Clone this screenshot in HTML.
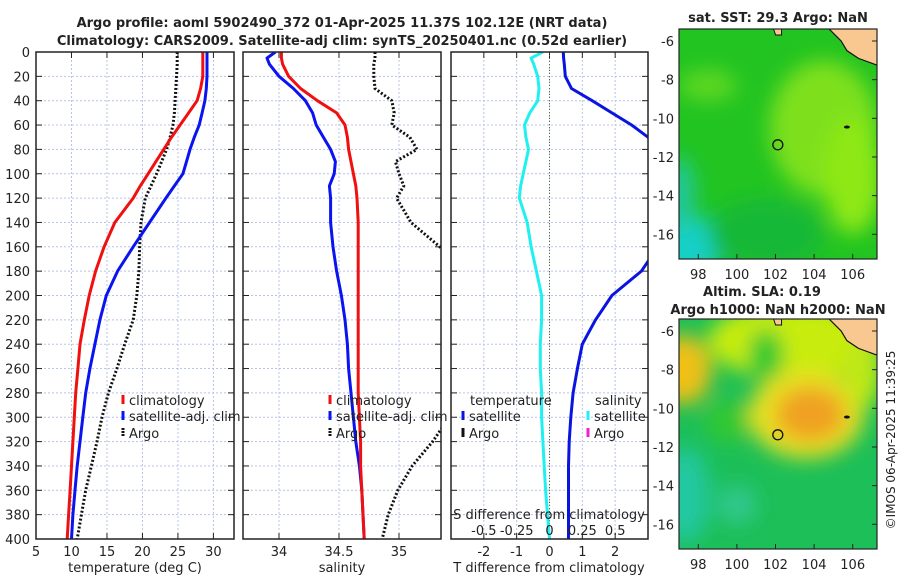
<!DOCTYPE html>
<html><head><meta charset="utf-8"><style>
body{margin:0;background:#fff;}
svg text{font-family:"DejaVu Sans","Liberation Sans",sans-serif;fill:#222;}
</style></head><body>
<svg id="fig" width="900" height="580" viewBox="0 0 900 580" xmlns="http://www.w3.org/2000/svg">
<defs>
<filter id="blur1" x="-50%" y="-50%" width="200%" height="200%"><feGaussianBlur stdDeviation="10"/></filter>
<clipPath id="cp1"><rect x="36" y="52" width="198" height="487"/></clipPath>
<clipPath id="cp2"><rect x="243" y="52" width="198" height="487"/></clipPath>
<clipPath id="cp3"><rect x="451" y="52" width="197" height="487"/></clipPath>
<clipPath id="cm1"><rect x="679" y="29" width="198" height="230"/></clipPath>
<clipPath id="cm2"><rect x="679" y="319" width="198" height="230"/></clipPath>
</defs>
<text x="342" y="27" text-anchor="middle" font-size="13" font-weight="bold">Argo profile: aoml 5902490_372 01-Apr-2025 11.37S 102.12E (NRT data)</text>
<text x="342" y="45" text-anchor="middle" font-size="13" font-weight="bold">Climatology: CARS2009. Satellite-adj clim: synTS_20250401.nc (0.52d earlier)</text>
<text x="778" y="22" text-anchor="middle" font-size="13" font-weight="bold">sat. SST: 29.3 Argo: NaN</text>
<text x="762" y="296" text-anchor="middle" font-size="13" font-weight="bold">Altim. SLA: 0.19</text>
<text x="778" y="314" text-anchor="middle" font-size="13" font-weight="bold">Argo h1000: NaN h2000: NaN</text>
<text transform="translate(895,440) rotate(-90)" text-anchor="middle" font-size="12">©IMOS 06-Apr-2025 11:39:25</text>
<g id="g"></g>
</svg>
<script>
// depth levels (m)
const depths=[0,5,10,20,30,40,50,60,70,80,90,100,110,120,140,160,180,200,220,240,260,280,300,320,340,360,380,400];
// temperature profiles (deg C)
const tempClim=[28.5,28.5,28.5,28.5,28.2,27.7,26.5,25.3,24.1,23,21.9,20.8,19.7,18.7,16.1,14.6,13.4,12.5,11.8,11.2,10.9,10.6,10.4,10.2,10.0,9.8,9.6,9.4];
const tempSat=[29.1,29.1,29.1,29.1,29.0,28.8,28.4,28.0,27.3,26.7,26.2,25.7,24.5,23.3,21.0,18.7,16.5,14.9,14.0,13.3,12.6,12.0,11.6,11.2,10.8,10.5,10.2,10.0];
const tempArgo=[24.9,24.9,24.9,24.8,24.7,24.6,24.5,24.3,23.9,23.4,22.7,22.0,21.2,20.4,19.8,19.6,19.5,19.2,18.7,17.5,16.4,15.2,14.3,13.6,12.8,12.0,11.4,10.8];
// salinity profiles (PSU)
const salClim=[34.02,34.02,34.03,34.08,34.18,34.32,34.48,34.55,34.57,34.58,34.60,34.62,34.64,34.65,34.66,34.66,34.66,34.66,34.66,34.66,34.66,34.66,34.67,34.68,34.68,34.69,34.70,34.71];
const salSat=[33.97,33.9,33.92,34.0,34.12,34.22,34.28,34.31,34.37,34.43,34.47,34.46,34.42,34.43,34.43,34.45,34.48,34.52,34.55,34.57,34.58,34.60,34.62,34.64,34.67,34.69,34.70,34.71];
const salArgo=[34.8,34.8,34.79,34.79,34.8,34.94,34.96,34.94,35.09,35.15,34.97,35.0,35.04,34.98,35.1,35.34,35.6,35.7,35.7,35.65,35.6,35.5,35.42,35.28,35.11,34.99,34.91,34.86];
// difference from climatology (satellite)
const tDiffSat=[0.42,0.43,0.45,0.48,0.67,1.3,1.9,2.5,3.0,3.5,3.8,3.9,3.9,3.8,3.6,3.3,2.8,1.9,1.4,1.0,0.85,0.72,0.65,0.6,0.58,0.58,0.58,0.58];
const sDiffSat=[-0.05,-0.14,-0.12,-0.09,-0.08,-0.09,-0.15,-0.19,-0.18,-0.16,-0.18,-0.2,-0.22,-0.23,-0.17,-0.14,-0.1,-0.06,-0.06,-0.07,-0.07,-0.06,-0.06,-0.05,-0.04,-0.03,-0.015,0];
// tick labels
const depthTicks=[0,20,40,60,80,100,120,140,160,180,200,220,240,260,280,300,320,340,360,380,400];
const tempTicks=[5,10,15,20,25,30];
const salTicks=[34,34.5,35];
const tdTicks=[-2,-1,0,1,2];
const sdTicks=[-0.5,-0.25,0,0.25,0.5];
const sdTickLabels=["-0.5","-0.25","0","0.25","0.5"];
const lonTicks=[98,100,102,104,106];
const latTicks=[-6,-8,-10,-12,-14,-16];

const NS="http://www.w3.org/2000/svg";
const G=document.getElementById('g');
function mk(tag,at,parent){const e=document.createElementNS(NS,tag);for(const k in at)e.setAttribute(k,at[k]);(parent||G).appendChild(e);return e;}
const Y=d=>52+d*(487/400);
const P1={x0:36,x1:234,v0:5,v1:32.9};
const P2={x0:243,x1:441,v0:33.7,v1:35.35};
const P3={x0:451,x1:648,v0:-3,v1:3};
const X=(p,v)=>p.x0+(v-p.v0)/(p.v1-p.v0)*(p.x1-p.x0);
const XS=v=>X(P3,v*4);

function panel(p,name){
  const bg=mk('rect',{x:p.x0,y:52,width:p.x1-p.x0,height:487,fill:'#fff',stroke:'none'});
  
  
  depthTicks.forEach(d=>{
    const l=mk('line',{x1:p.x0,x2:p.x1,y1:Y(d),y2:Y(d),stroke:'#b8c4e8','stroke-width':1,'stroke-dasharray':'2,2'});
    
    
    [p.x0,p.x1].forEach((x,i)=>{const t=mk('line',{x1:x,x2:x+(i?-6:6),y1:Y(d),y2:Y(d),stroke:'#222'});
      
      });
  });
}
function vgrid(p,name,vals,fn){
  vals.forEach(v=>{const x=fn(v);
    const l=mk('line',{x1:x,x2:x,y1:52,y2:539,stroke:'#b8c4e8','stroke-dasharray':'2,2'});
    
    
    [52,539].forEach((y,i)=>{const t=mk('line',{x1:x,x2:x,y1:y,y2:y+(i?-6:6),stroke:'#222'});
      
      });
  });
}
function frame(p,name){
  const r=mk('rect',{x:p.x0,y:52,width:p.x1-p.x0,height:487,fill:'none',stroke:'#222','stroke-width':1.5});
  
  
}
function line(vals,fn,clip,color,width,dash,name){
  const pts=vals.map((v,i)=>fn(v).toFixed(1)+','+Y(depths[i]).toFixed(1)).join(' ');
  const at={points:pts,fill:'none',stroke:color,'stroke-width':width,'clip-path':'url(#'+clip+')','stroke-linejoin':'round'};
  if(dash)at['stroke-dasharray']=dash;
  const e=mk('polyline',at);
  
  
}
function txt(x,y,s,at,name){const t=mk('text',Object.assign({x:x,y:y,'font-size':13},at||{}));t.textContent=s;
  
  return t;}

// Panel 1
panel(P1,'temp-panel');
vgrid(P1,'temp-panel',tempTicks,v=>X(P1,v));
line(tempArgo,v=>X(P1,v),'cp1','#111',3,'2,2','temp-argo-line');
line(tempSat,v=>X(P1,v),'cp1','#0a14f0',3,null,'temp-satellite-line');
line(tempClim,v=>X(P1,v),'cp1','#f01010',3,null,'temp-climatology-line');
frame(P1,'temp-panel');
depthTicks.forEach(d=>txt(30,Y(d)+5,String(d),{'text-anchor':'end'},'depth-tick-label'));
tempTicks.forEach(v=>txt(X(P1,v),556,String(v),{'text-anchor':'middle'},'temp-tick-label'));
txt(135,572,'temperature (deg C)',{'text-anchor':'middle'},'temp-axis-title');

// Panel 2
panel(P2,'salinity-panel');
vgrid(P2,'salinity-panel',salTicks,v=>X(P2,v));
line(salArgo,v=>X(P2,v),'cp2','#111',3,'2,2','salinity-argo-line');
line(salSat,v=>X(P2,v),'cp2','#0a14f0',3,null,'salinity-satellite-line');
line(salClim,v=>X(P2,v),'cp2','#f01010',3,null,'salinity-climatology-line');
frame(P2,'salinity-panel');
salTicks.forEach(v=>txt(X(P2,v),556,String(v),{'text-anchor':'middle'},'salinity-tick-label'));
txt(342,572,'salinity',{'text-anchor':'middle'},'salinity-axis-title');

// Panel 3
panel(P3,'diff-panel');
vgrid(P3,'diff-panel',tdTicks,v=>X(P3,v));
const zl=mk('line',{x1:X(P3,0),x2:X(P3,0),y1:52,y2:539,stroke:'#556b2f','stroke-dasharray':'1,2'});


line(tDiffSat,v=>X(P3,v),'cp3','#0a14e0',3,null,'temp-diff-satellite-line');
line(sDiffSat,XS,'cp3','#20f0f0',3,null,'salinity-diff-satellite-line');
frame(P3,'diff-panel');
tdTicks.forEach(v=>txt(X(P3,v),556,String(v),{'text-anchor':'middle'},'temp-diff-tick-label'));
txt(549,572,'T difference from climatology',{'text-anchor':'middle'},'temp-diff-axis-title');
txt(549,519,'S difference from climatology',{'text-anchor':'middle'},'salinity-diff-axis-title');
sdTicks.forEach((v,i)=>txt(XS(v),535,sdTickLabels[i],{'text-anchor':'middle'},'salinity-diff-tick-label'));

// legends
function legItem(x,y,color,label,name,dash){
  const m=mk('line',{x1:x,x2:x,y1:y-10,y2:y-1,stroke:color,'stroke-width':3});
  if(dash)m.setAttribute('stroke-dasharray','2,1');
  
  
  txt(x+6,y,label,{},name+'-label');
}
[[123,P1],[330,P2]].forEach(([x,p],k)=>{
  const n=k?'salinity-legend':'temp-legend';
  legItem(x,405,'#f01010','climatology',n+'-climatology');
  legItem(x,421,'#0a14f0','satellite-adj. clim',n+'-satellite');
  legItem(x,438,'#111','Argo',n+'-argo',true);
});
txt(470,405,'temperature',{},'diff-legend-temp-heading');
legItem(463,421,'#0a14e0','satellite','diff-legend-temp-satellite');
legItem(463,438,'#111','Argo','diff-legend-temp-argo');
txt(595,405,'salinity',{},'diff-legend-sal-heading');
legItem(588,421,'#20f0f0','satellite','diff-legend-sal-satellite');
legItem(588,438,'#f020d0','Argo','diff-legend-sal-argo');

// Maps
function map(top,clip,name,blobs){
  const LX=lon=>679+(lon-97)*19.3;
  const LY=lat=>top+12+(-6-lat)*19.33;
  const g=mk('g',{'clip-path':'url(#'+clip+')'});
  
  
  mk('rect',{x:679,y:top,width:198,height:230,fill:blobs.base},g);
  const gb=mk('g',{filter:'url(#blur1)'},g);
  blobs.list.forEach(b=>mk('ellipse',{cx:LX(b[0]),cy:LY(b[1]),rx:b[2]*19.3,ry:b[3]*19.3,fill:b[4]},gb));
  const land=mk('polygon',{points:[[104.7,-5.3],[105.4,-6.0],[105.7,-6.5],[106.3,-6.9],[107.4,-7.3],[107.4,-5.3]].map(p=>LX(p[0])+','+LY(p[1])).join(' '),fill:'#f8c890',stroke:'#111','stroke-width':1.2},g);
  
  
  mk('path',{d:`M${LX(101.9)},${top} l2,6 l6,0 l0,-6`,fill:'#f8c890',stroke:'#111'},g);
  const ci=mk('ellipse',{cx:LX(105.7),cy:LY(-10.45),rx:3,ry:1.5,fill:'#111'},g);
  
  
  const c=mk('circle',{cx:LX(102.12),cy:LY(-11.37),r:5,fill:'none',stroke:'#111','stroke-width':1.3},g);
  
  
  const f=mk('rect',{x:679,y:top,width:198,height:230,fill:'none',stroke:'#222','stroke-width':1.2});
  
  
  lonTicks.forEach(v=>{txt(LX(v),top+250,String(v),{'text-anchor':'middle'},name+'-lon-label');
    const t=mk('line',{x1:LX(v),x2:LX(v),y1:top+230,y2:top+225,stroke:'#222'});
    
    });
  latTicks.forEach(v=>{txt(674,LY(v)+5,String(v),{'text-anchor':'end'},name+'-lat-label');
    const t=mk('line',{x1:877,x2:872,y1:LY(v),y2:LY(v),stroke:'#222'});
    
    });
}
map(29,'cm1','sst-map',{base:'#22c422',list:[
  [104.5,-10.5,2.8,3.5,'#7ee01c'],[106,-13,1.5,3,'#8ee818'],[98.5,-8.3,1.5,0.8,'#5ed820'],
  [97.3,-16.6,2,1.6,'#18d0c8'],[97,-14,0.8,2,'#20c8a0'],[101.5,-16,3,1.8,'#12b838']]});
map(319,'cm2','sla-map',{base:'#1cbf58',list:[
  [103,-6.5,4.5,2,'#c8ec10'],[97.2,-8,1.5,1.8,'#f0c018'],[101.5,-7.3,0.9,1.4,'#20c830'],
  [99.5,-10.7,1.1,1.1,'#30c830'],[103.6,-10.3,3,2.3,'#e8e020'],[103.8,-10.3,1.8,1.4,'#f0a020'],
  [106.5,-8,1,2,'#c0e818'],[97.3,-14.5,1.3,2.5,'#20c8a0'],[100,-15,1,1,'#30c890']]});
</script>
</body></html>
